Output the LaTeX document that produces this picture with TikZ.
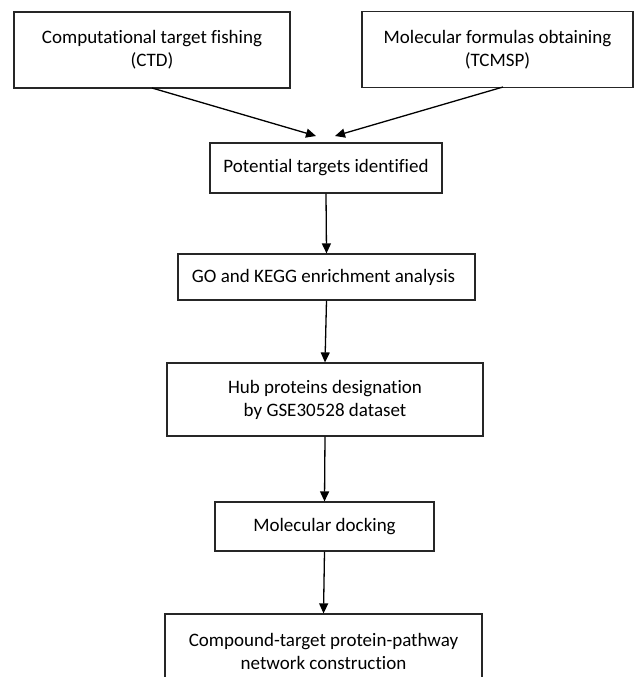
\documentclass[tikz,border=0pt]{standalone}
\usepackage{fontspec}
\setmainfont{Carlito}[Ligatures=NoCommon]
\usetikzlibrary{arrows.meta}
\begin{document}
\begin{tikzpicture}[x=1pt,y=-1pt,
  box/.style={draw=black!85,line width=1.2pt,rectangle,inner sep=0pt,align=center,
    font=\fontsize{19}{23}\selectfont},
  arr/.style={draw=black,line width=1.3pt,-{Triangle[length=10pt,width=9pt]}}]
\useasboundingbox (0,0) rectangle (634,677);
\node[box,minimum width=276pt,minimum height=76pt] (ctd) at (152,50) {Computational target fishing\\(CTD)};
\node[box,minimum width=271pt,minimum height=76pt] (tcm) at (497.5,49.5) {Molecular formulas obtaining\\(TCMSP)};
\node[box,minimum width=232pt,minimum height=50pt] (pot) at (326,168) {Potential targets identified};
\node[box,minimum width=297pt,minimum height=46pt] (go) at (326.5,277) {GO and KEGG enrichment analysis\hspace*{6pt}};
\node[box,minimum width=316pt,minimum height=73pt] (hub) at (325,399.5) {Hub proteins designation\\by GSE30528 dataset};
\node[box,minimum width=219pt,minimum height=49pt] (dock) at (324.5,526.5) {Molecular docking};
\node[box,minimum width=317pt,minimum height=74pt] (net) at (323.5,651) {Compound-target protein-pathway\\network construction};
\coordinate (s1) at (152,88);
\coordinate (e1) at (316,136);
\coordinate (s2) at (503,87);
\coordinate (e2) at (335,136);
\draw[arr] (s1) -- (e1);
\draw[arr] (s2) -- (e2);
\draw[arr] (pot.south) -- (go.north);
\draw[arr] (go.south) -- (hub.north);
\draw[arr] (hub.south) -- (dock.north);
\draw[arr] (dock.south) -- (net.north);
\end{tikzpicture}
\end{document}
